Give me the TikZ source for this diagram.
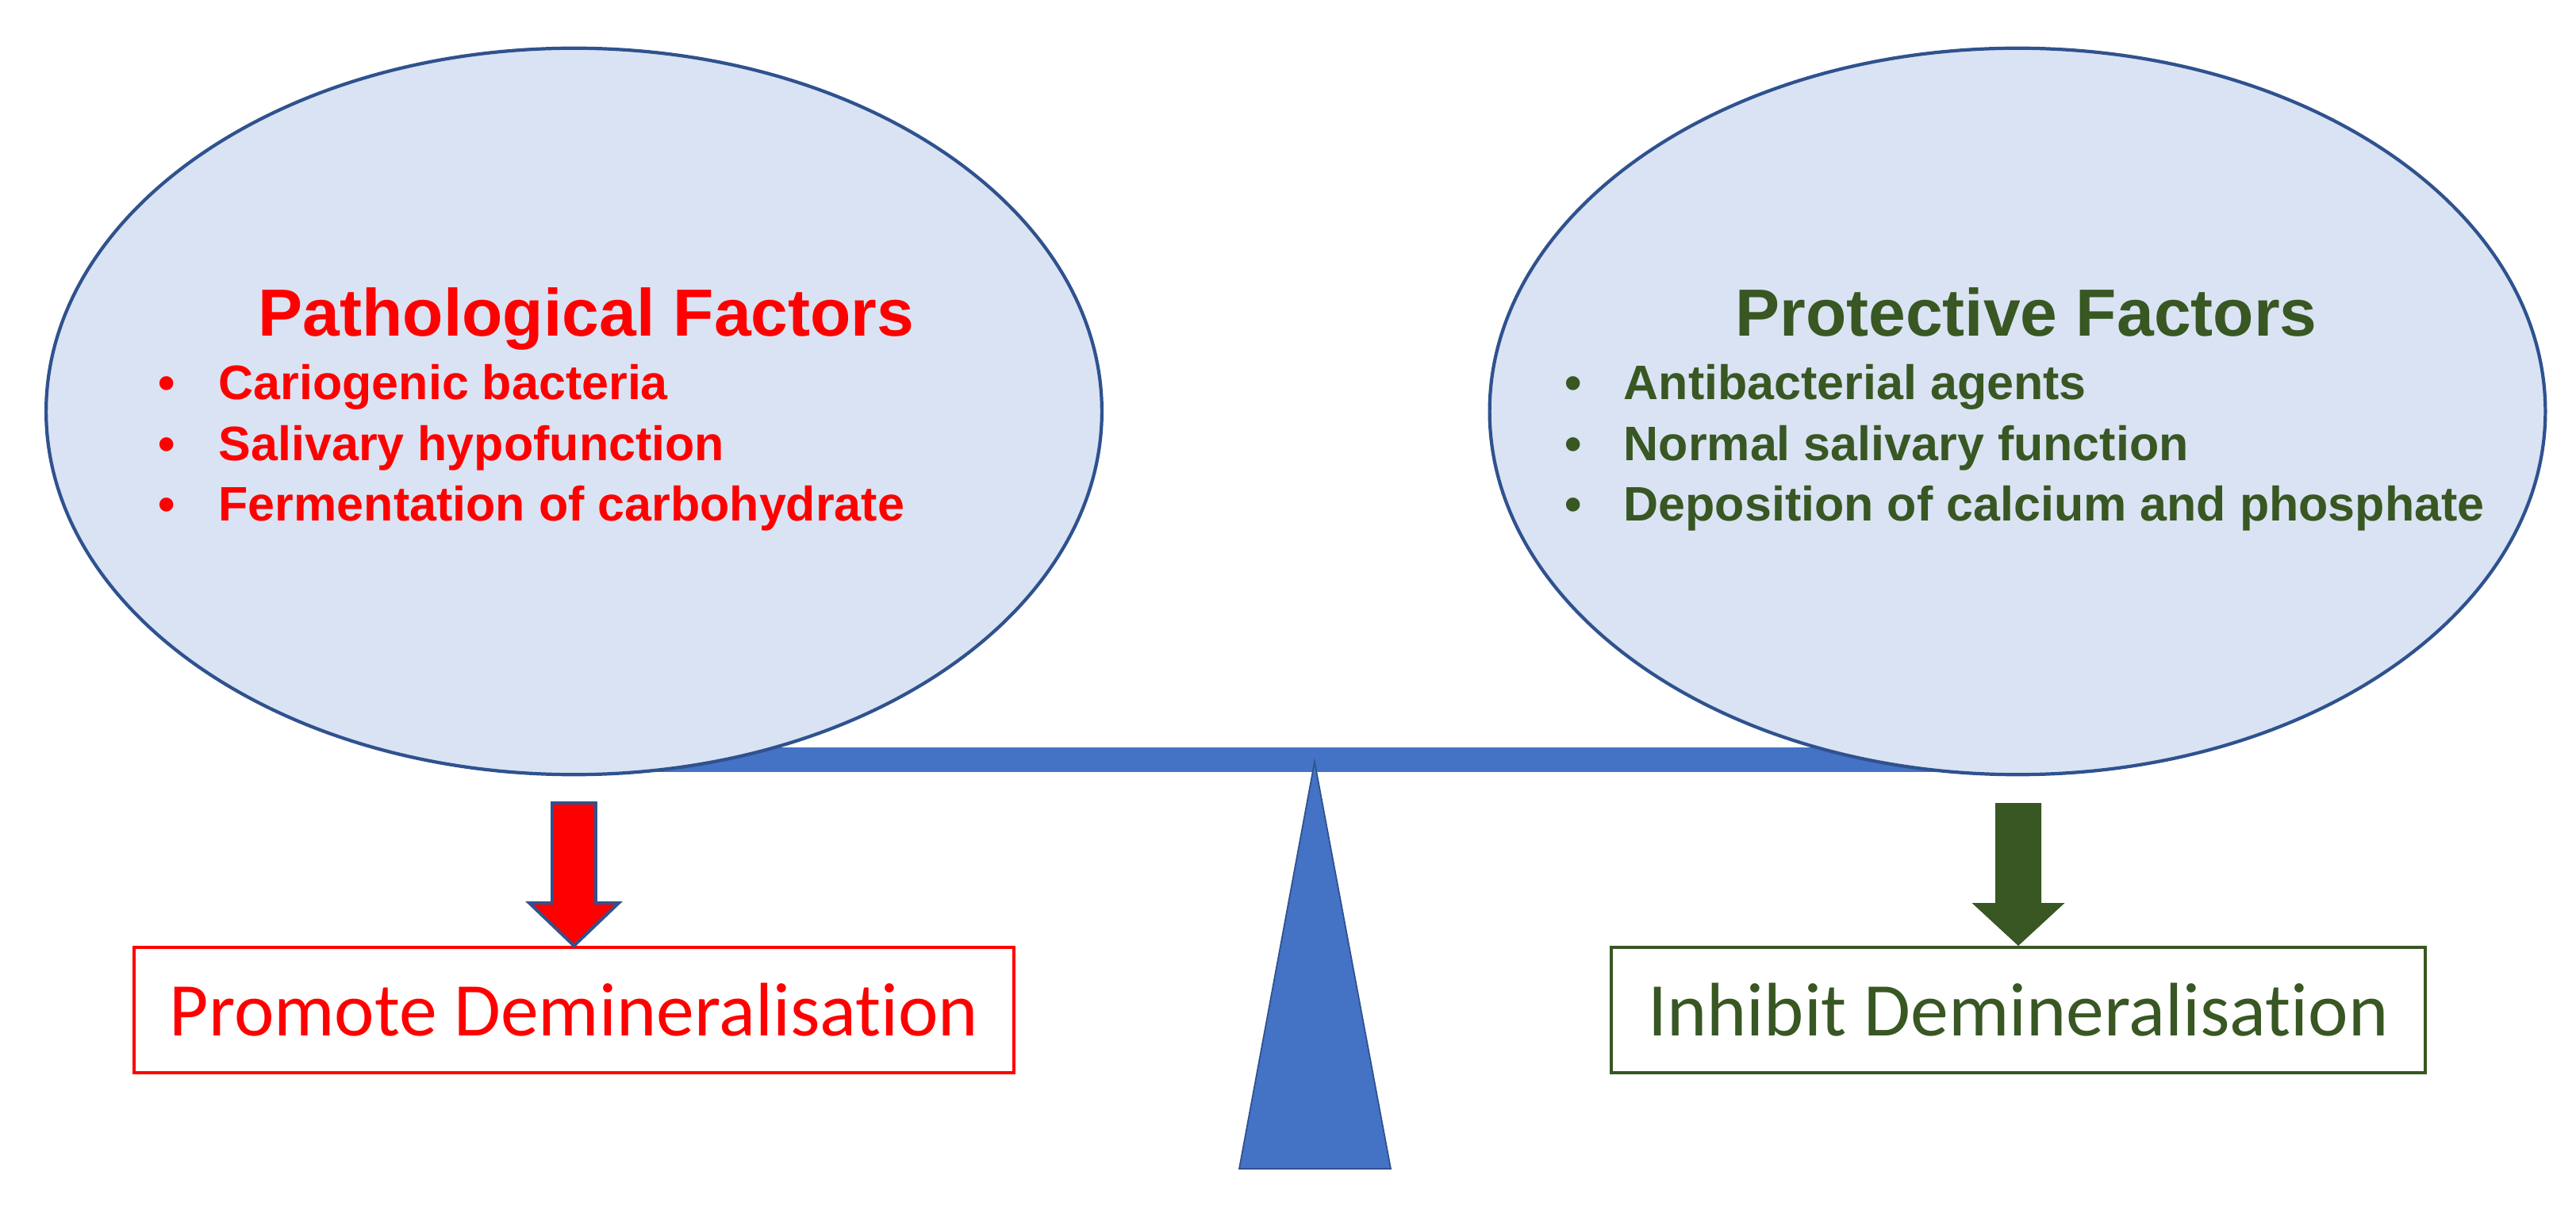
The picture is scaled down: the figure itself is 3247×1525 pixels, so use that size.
\documentclass[tikz,border=0pt]{standalone}
\usepackage{fontspec}
\setmainfont{Liberation Sans}
\newfontfamily\calib[RawFeature={-liga}]{Carlito}
\usetikzlibrary{shapes.geometric,calc}
\definecolor{ellfill}{HTML}{DAE3F3}
\definecolor{ellline}{HTML}{2F528F}
\definecolor{beamblue}{HTML}{4472C4}
\definecolor{pred}{HTML}{FF0000}
\definecolor{pgreen}{HTML}{385723}
\tikzset{
  factor/.style={ellipse, draw=ellline, fill=ellfill, line width=1.2pt,
    minimum width=13.3cm, minimum height=9.15cm, inner sep=0pt},
  title/.style={anchor=base, font=\fontsize{23.9pt}{26pt}\selectfont\bfseries, inner sep=0pt},
  item/.style={anchor=base west, font=\fontsize{17.35pt}{20pt}\selectfont\bfseries, inner sep=0pt},
  bul/.style={anchor=base, font=\fontsize{17.35pt}{20pt}\selectfont\bfseries, inner sep=0pt},
  outbox/.style={rectangle, line width=1.1pt, fill=white,
    minimum width=11.09cm, minimum height=1.58cm, inner sep=0pt,
    font=\calib\fontsize{27.2pt}{30pt}\selectfont},
}
\begin{document}
\begin{tikzpicture}[x=0.01cm, y=-0.01cm]
\useasboundingbox (0,0) rectangle (3247,1525);
% beam and fulcrum
\fill[beamblue] (723,942) rectangle (2543,973);
\draw[ellline, fill=beamblue, line width=0.5pt] (1657,960) -- (1753,1473) -- (1562,1473) -- cycle;
% ellipses
\node[factor] (path) at (723.5,518.5) {};
\node[factor] (prot) at (2543,518.5) {};
% left text
\node[title, text=pred] (pt) at (739,424) {Pathological Factors};
\foreach \y/\t [count=\i] in {504/Cariogenic bacteria, 580.5/Salivary hypofunction, 657/Fermentation of carbohydrate}{
  \node[bul, text=pred] (pb\i) at (210,\y) {•};
  \node[item, text=pred] (pi\i) at (275,\y) {\t};
}
% right text
\node[title, text=pgreen] (gt) at (2554,424) {Protective Factors};
\foreach \y/\t [count=\i] in {504/Antibacterial agents, 580.5/Normal salivary function, 657/Deposition of calcium and phosphate}{
  \node[bul, text=pgreen] (gb\i) at (1983,\y) {•};
  \node[item, text=pgreen] (gi\i) at (2046,\y) {\t};
}
% outcome boxes
\node[outbox, draw=pred, text=pred] (promote) at (723.5,1273) {Promote Demineralisation};
\node[outbox, draw=pgreen, text=pgreen, minimum width=10.26cm] (inhibit) at (2544,1273) {Inhibit Demineralisation};
% arrows
\draw[fill=pred, draw=ellline, line width=1.1pt, line join=miter]
  ($(promote.north)+(-27.5,-180)$) -- ($(promote.north)+(27.5,-180)$) --
  ($(promote.north)+(27.5,-54)$) -- ($(promote.north)+(56.5,-54)$) --
  (promote.north) -- ($(promote.north)+(-56.5,-54)$) --
  ($(promote.north)+(-27.5,-54)$) -- cycle;
\fill[pgreen]
  ($(inhibit.north)+(-29,-180)$) -- ($(inhibit.north)+(29,-180)$) --
  ($(inhibit.north)+(29,-54)$) -- ($(inhibit.north)+(58.5,-54)$) --
  (inhibit.north) -- ($(inhibit.north)+(-58.5,-54)$) --
  ($(inhibit.north)+(-29,-54)$) -- cycle;
\end{tikzpicture}
\end{document}
